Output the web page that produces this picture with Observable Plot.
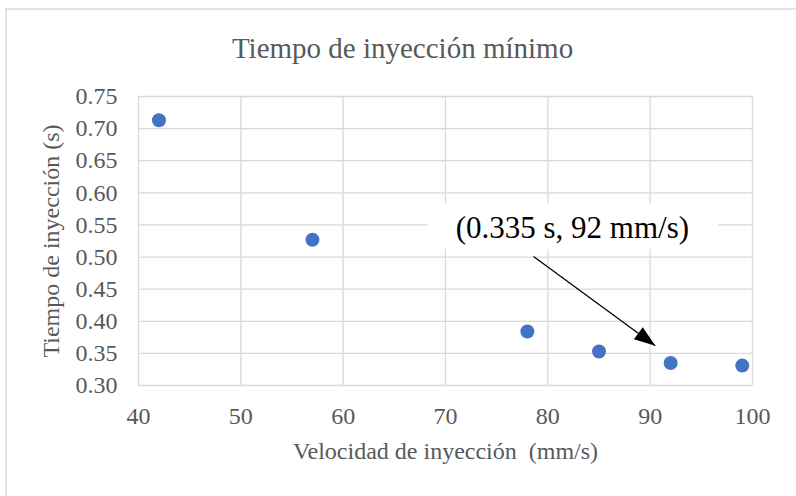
<!DOCTYPE html>
<html><head><meta charset="utf-8">
<script src="https://cdn.jsdelivr.net/npm/d3@7"></script>
<script src="https://cdn.jsdelivr.net/npm/@observablehq/plot@0.6"></script>
<style>
body{margin:0;background:#fff;}
#wrap{position:relative;width:796px;height:496px;overflow:hidden;background:#fff;}
#border{position:absolute;left:5px;top:8px;right:-10px;bottom:-10px;border:2px solid #e3e3e3;}
#chart{position:absolute;left:0;top:0;}
</style></head><body>
<div id="wrap"><div id="border"></div><div id="chart"></div></div>
<script>
// Data
const velocity = [42, 57, 78, 85, 92, 99];          // mm/s
const injTime  = [0.713, 0.527, 0.384, 0.353, 0.335, 0.331]; // s
const xTicks = [40, 50, 60, 70, 80, 90, 100];
const yTicks = [0.30, 0.35, 0.40, 0.45, 0.50, 0.55, 0.60, 0.65, 0.70, 0.75];
const titleText = "Tiempo de inyección mínimo";
const xLabelText = "Velocidad de inyección\u00a0 (mm/s)";
const yLabelText = "Tiempo de inyección (s)";
// Annotation
const noteText = ["(0.335 s, 92 mm/s)"];
const noteX = [82.4];
const noteY = [0.5445];
const noteBoxX = [68.3, 96.7];
const noteBoxY = [0.512, 0.582];
const arrowFrom = [78.6, 0.501];
const arrowTo = [90.5, 0.362];

const points = velocity.map((v, i) => ({v, t: injTime[i]}));
const serif = "Liberation Serif";

const plot = Plot.plot({
  width: 796, height: 496,
  marginLeft: 138, marginRight: 44, marginTop: 96, marginBottom: 111,
  style: {fontFamily: serif, fontSize: "24px", color: "#595959", background: "transparent"},
  x: {domain: [40, 100], label: null},
  y: {domain: [0.30, 0.75], label: null},
  marks: [
    Plot.gridX(xTicks, {stroke: "#d9d9d9", strokeOpacity: 1, strokeWidth: 1.3}),
    Plot.gridY(yTicks, {stroke: "#d9d9d9", strokeOpacity: 1, strokeWidth: 1.3}),
    Plot.axisX(xTicks, {tickSize: 0, tickPadding: 21, label: null, fontSize: 24, fill: "#595959"}),
    Plot.axisY(yTicks, {tickSize: 0, tickPadding: 21, label: null, fontSize: 24, fill: "#595959", tickFormat: d => d.toFixed(2)}),
    Plot.rect([0], {x1: () => noteBoxX[0], x2: () => noteBoxX[1], y1: () => noteBoxY[0], y2: () => noteBoxY[1], fill: "white"}),
    Plot.link([0], {x1: () => arrowFrom[0], y1: () => arrowFrom[1], x2: () => arrowTo[0], y2: () => arrowTo[1], stroke: "black", strokeWidth: 1.3, markerEnd: "arrow"}),
    Plot.dot(points, {x: "v", y: "t", r: 7, fill: "#4472c4"}),
    Plot.text(noteText, {x: (d, i) => noteX[i], y: (d, i) => noteY[i], text: d => d, fontSize: 31, fill: "black"}),
    Plot.text([titleText], {frameAnchor: "top", dx: -43, dy: -39, lineAnchor: "bottom", text: d => d, fontSize: 29, fill: "#595959"}),
    Plot.text([xLabelText], {frameAnchor: "bottom", dy: 73, lineAnchor: "bottom", text: d => d, fontSize: 24, fill: "#595959"}),
    Plot.text([yLabelText], {frameAnchor: "left", dx: -87, rotate: -90, textAnchor: "middle", text: d => d, fontSize: 24, fill: "#595959"})
  ]
});

const sel = d3.select(plot);
sel.attr("font-family", serif);
sel.selectAll("g").attr("font-family", serif);
sel.selectAll("text").attr("font-family", serif).style("font-family", serif);

sel.selectAll("marker")
  .attr("markerUnits", "userSpaceOnUse")
  .attr("viewBox", "-22 -10 24 20")
  .attr("markerWidth", 24).attr("markerHeight", 20)
  .attr("overflow", "visible")
  .select("path")
  .attr("d", "M-21,-7.5L0,0L-21,7.5Z")
  .attr("fill", "black").attr("stroke", "none");

document.getElementById("chart").appendChild(plot);
</script>
</body></html>
